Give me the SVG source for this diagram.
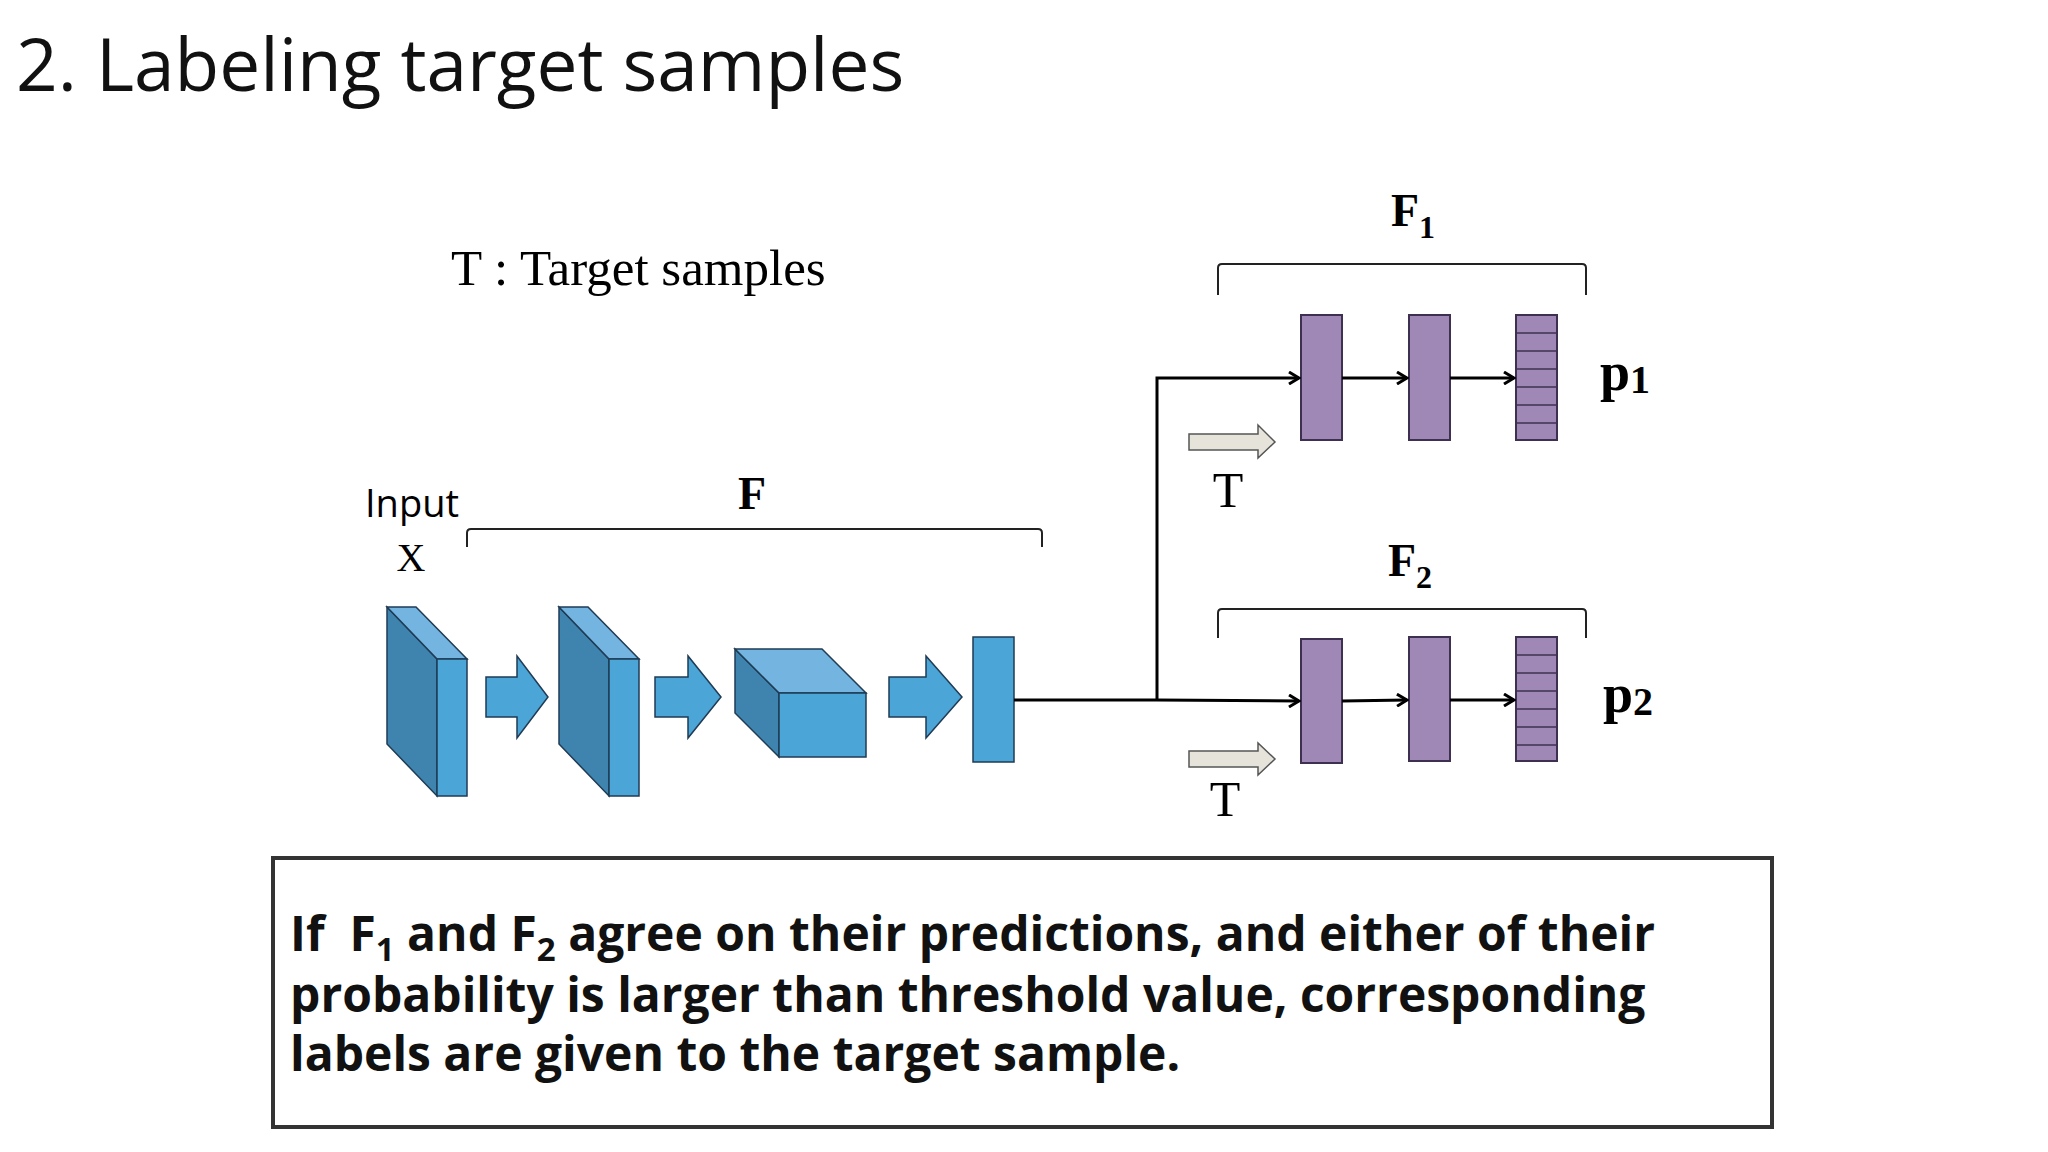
<svg xmlns="http://www.w3.org/2000/svg" width="2048" height="1152" viewBox="0 0 2048 1152">
<style>
.blue{fill:#4ba5d6;stroke:#1f3b55;stroke-width:1.5}
.dark{fill:#3f84ae;stroke:#1f3b55;stroke-width:1.5}
.light{fill:#73b5e0;stroke:#1f3b55;stroke-width:1.5}
.pur{fill:#a088b6;stroke:#3d3050;stroke-width:2}
.ln{stroke:#000;stroke-width:3;fill:none}
.br{stroke:#222;stroke-width:2;fill:none}
.serif{font-family:"Liberation Serif",serif}
.sans{font-family:"Open Sans","Liberation Sans",sans-serif}
.gray{fill:#e6e4da;stroke:#555;stroke-width:1.5}
</style>
<defs>
<marker id="ah" markerWidth="14" markerHeight="14" refX="12" refY="7" orient="auto" markerUnits="userSpaceOnUse"><path d="M2,1 L12,7 L2,13" fill="none" stroke="#000" stroke-width="3"/></marker>
<g id="stripes"><line x1="0" y1="18" x2="41" y2="18"/><line x1="0" y1="36" x2="41" y2="36"/><line x1="0" y1="54" x2="41" y2="54"/><line x1="0" y1="72" x2="41" y2="72"/><line x1="0" y1="90" x2="41" y2="90"/><line x1="0" y1="108" x2="41" y2="108"/></g>
</defs>
<rect width="2048" height="1152" fill="#fff"/>
<text x="16" y="91" class="sans" font-size="73" fill="#111">2. Labeling target samples</text>
<text x="451" y="285" class="serif" font-size="51">T : Target samples</text>
<g id="F-label"><text x="752" y="509" class="serif" font-size="46" font-weight="bold" text-anchor="middle">F</text><path class="br" d="M467,547 V533 Q467,529 471,529 H1038 Q1042,529 1042,533 V547"/></g>
<g id="input"><text x="412" y="517" class="sans" font-size="38" text-anchor="middle">Input</text><text x="411" y="571" class="serif" font-size="40" text-anchor="middle">X</text></g>
<g id="slab1"><polygon class="dark" points="387,607 437,659 437,796 387,744"/><polygon class="light" points="387,607 416,607 467,659 437,659"/><rect class="blue" x="437" y="659" width="30" height="137"/></g>
<g id="arrow1"><polygon class="blue" points="486,677 517,677 517,656 548,697 517,738 517,717 486,717"/></g>
<g id="slab2"><polygon class="dark" points="559,607 609,659 609,796 559,744"/><polygon class="light" points="559,607 588,607 639,659 609,659"/><rect class="blue" x="609" y="659" width="30" height="137"/></g>
<g id="arrow2"><polygon class="blue" points="655,677 688,677 688,656 721,697 688,738 688,717 655,717"/></g>
<g id="box"><polygon class="dark" points="735,649 779,693 779,757 735,713"/><polygon class="light" points="735,649 822,649 866,693 779,693"/><rect class="blue" x="779" y="693" width="87" height="64"/></g>
<g id="arrow3"><polygon class="blue" points="889,677 926,677 926,656 962,697 926,738 926,717 889,717"/></g>
<g id="feat"><rect class="blue" x="973" y="637" width="41" height="125"/></g>
<g id="F1-label"><text x="1413" y="226" class="serif" font-size="46" font-weight="bold" text-anchor="middle">F<tspan font-size="32" dy="12">1</tspan></text><path class="br" d="M1218,295 V268 Q1218,264 1222,264 H1582 Q1586,264 1586,268 V295"/></g>
<g id="F2-label"><text x="1410" y="576" class="serif" font-size="46" font-weight="bold" text-anchor="middle">F<tspan font-size="32" dy="12">2</tspan></text><path class="br" d="M1218,638 V613 Q1218,609 1222,609 H1582 Q1586,609 1586,613 V638"/></g>
<g id="F1-n1"><rect class="pur" x="1301" y="315" width="41" height="125"/></g>
<g id="F1-n2"><rect class="pur" x="1409" y="315" width="41" height="125"/></g>
<g id="F1-n3"><rect class="pur" x="1516" y="315" width="41" height="125"/><use href="#stripes" x="1516" y="315" stroke="#3d3050" stroke-width="1.5"/></g>
<g id="F2-n1"><rect class="pur" x="1301" y="639" width="41" height="124"/></g>
<g id="F2-n2"><rect class="pur" x="1409" y="637" width="41" height="124"/></g>
<g id="F2-n3"><rect class="pur" x="1516" y="637" width="41" height="124"/><use href="#stripes" x="1516" y="637" stroke="#3d3050" stroke-width="1.5"/></g>
<g id="p1"><text x="1600" y="390" class="serif" font-size="54" font-weight="bold">p<tspan font-size="40" dy="3">1</tspan></text></g>
<g id="p2"><text x="1603" y="712" class="serif" font-size="54" font-weight="bold">p<tspan font-size="40" dy="3">2</tspan></text></g>
<g id="T1"><polygon class="gray" points="1189,434 1258,434 1258,425 1275,442 1258,458 1258,450 1189,450"/><text x="1228" y="507" class="serif" font-size="50" text-anchor="middle">T</text></g>
<g id="T2"><polygon class="gray" points="1189,751 1258,751 1258,743 1275,759 1258,775 1258,767 1189,767"/><text x="1225" y="816" class="serif" font-size="50" text-anchor="middle">T</text></g>
<g id="connectors">
<path class="ln" d="M1014,700 H1157"/>
<path class="ln" d="M1157,701 V378 H1299" marker-end="url(#ah)"/>
<path class="ln" d="M1157,700 L1299,701" marker-end="url(#ah)"/>
<path class="ln" d="M1342,378 H1407" marker-end="url(#ah)"/>
<path class="ln" d="M1450,378 H1514" marker-end="url(#ah)"/>
<path class="ln" d="M1342,701 L1407,700" marker-end="url(#ah)"/>
<path class="ln" d="M1450,700 H1514" marker-end="url(#ah)"/>
</g>
<g id="note"><rect x="273" y="858" width="1499" height="269" fill="none" stroke="#333" stroke-width="4"/>
<text class="sans" font-size="48" font-weight="bold" fill="#111"><tspan x="290" y="951">If &#160;F<tspan font-size="33" dy="10">1</tspan><tspan dy="-10"> and F</tspan><tspan font-size="33" dy="10">2</tspan><tspan dy="-10"> agree on their predictions, and either of their</tspan></tspan><tspan x="290" y="1012">probability is larger than threshold value, corresponding</tspan><tspan x="290" y="1071">labels are given to the target sample.</tspan></text></g>
</svg>
